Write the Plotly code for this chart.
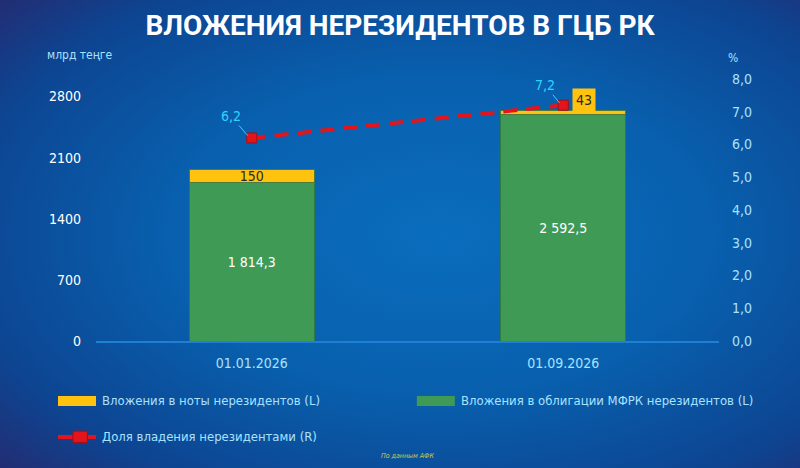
import base64
import plotly.graph_objects as go

# data
dates = ["01.01.2026", "01.09.2026"]
bonds_mfrk = [1814.3, 2592.5]   # облигации МФРК, млрд тенге (L)
notes = [150, 43]               # ноты, млрд тенге (L)
share = [6.2, 7.2]              # доля нерезидентов, % (R)
left_ticks = [0, 700, 1400, 2100, 2800]

GREEN = "#3f9a56"
YELLOW = "#ffc20e"
RED = "#e3141c"
CYAN = "#2fd2ff"
TICK = "#a9e2ff"
FONT = "DejaVu Sans Condensed, Liberation Sans Narrow, Roboto, sans-serif"

# plot area in pixels, used to place the background over the whole page
L, R, T, B = 96, 81, 79, 127
PW, PH = 800 - L - R, 468 - T - B

# background gradient as an inline svg
svg = """<svg xmlns='http://www.w3.org/2000/svg' width='800' height='468' preserveAspectRatio='none'>
<defs><radialGradient id='g' cx='0.55' cy='0.5' r='0.75'>
<stop offset='0' stop-color='#0a6dbd'/>
<stop offset='0.45' stop-color='#0860ae'/>
<stop offset='0.8' stop-color='#0d4592'/>
<stop offset='1' stop-color='#232c72'/>
</radialGradient></defs>
<rect width='800' height='468' fill='url(#g)'/></svg>"""
bg = "data:image/svg+xml;base64," + base64.b64encode(svg.encode()).decode()

fig = go.Figure()

fig.add_trace(go.Bar(
    x=dates, y=bonds_mfrk, name="Вложения в облигации МФРК нерезидентов (L)",
    marker=dict(color=GREEN, line=dict(color="#2f7a45", width=1)),
    width=0.4, texttemplate="%{y:,.1f}", textposition="inside",
    insidetextanchor="middle",
    textfont=dict(family=FONT, size=14, color="white"),
))
fig.add_trace(go.Bar(
    x=dates, y=notes, name="Вложения в ноты нерезидентов (L)",
    marker=dict(color=YELLOW, line=dict(color="#4f7a3a", width=1)),
    width=0.4, constraintext="none",
    text=[str(notes[0]), ""], textposition="inside", insidetextanchor="middle",
    textfont=dict(family=FONT, size=14, color="#2a2a2a"),
))
fig.add_trace(go.Scatter(
    x=dates, y=share, yaxis="y2", mode="lines+markers",
    name="Доля владения нерезидентами (R)",
    line=dict(color=RED, width=4, dash="14px,9px"),
    marker=dict(symbol="square", size=10, color=RED,
                line=dict(color="#a01018", width=1)),
))

annotations = []
# small share labels with leader lines
for d, v, ax, ay in zip(dates, share, [-19, -16], [-22, -20]):
    annotations.append(dict(
        x=d, y=v, yref="y2", text=f"{v:.1f}".replace(".", ","),
        showarrow=True, arrowhead=0, arrowwidth=1, arrowcolor=CYAN,
        ax=ax, ay=ay, xshift=-2, standoff=3,
        font=dict(family=FONT, size=14, color=CYAN),
    ))
# label of the tiny notes segment sits in a yellow box above the bar
annotations.append(dict(
    x=dates[1], y=bonds_mfrk[1] + notes[1], text=str(notes[1]),
    showarrow=False, yanchor="bottom", xshift=21, yshift=-1,
    bgcolor=YELLOW, borderpad=3,
    font=dict(family=FONT, size=14, color="#2a2a2a"),
))
annotations += [
    dict(xref="paper", yref="paper", x=-0.082, y=1.09, xanchor="left",
         yanchor="middle", text="млрд теңге", showarrow=False,
         font=dict(family=FONT, size=12, color=TICK)),
    dict(xref="paper", yref="paper", x=1.012, y=1.08, xanchor="left",
         yanchor="middle", text="%", showarrow=False,
         font=dict(family=FONT, size=12, color=TICK)),
    dict(xref="paper", yref="paper", x=0.5, y=-0.44, yanchor="middle",
         text="<i>По данным АФК</i>", showarrow=False,
         font=dict(family=FONT, size=7, color="#d6c25a")),
]

# hand-made legend (wide swatches like the original)
legend_rows = [
    (0.0, -0.229, YELLOW, "Вложения в ноты нерезидентов (L)"),
    (0.576, -0.229, GREEN, "Вложения в облигации МФРК нерезидентов (L)"),
]
shapes = []
for lx, ly, col, label in legend_rows:
    shapes.append(dict(type="rect", xref="paper", yref="paper",
                       x0=lx - 0.061, x1=lx, y0=ly - 0.019, y1=ly + 0.019,
                       fillcolor=col, line=dict(width=0)))
    annotations.append(dict(xref="paper", yref="paper", x=lx + 0.006, y=ly,
                            xanchor="left", yanchor="middle", text=label,
                            showarrow=False,
                            font=dict(family=FONT, size=13, color=TICK)))
ly = -0.366
shapes.append(dict(type="line", xref="paper", yref="paper", x0=-0.061, x1=0.0,
                   y0=ly, y1=ly, line=dict(color=RED, width=4)))
shapes.append(dict(type="rect", xref="paper", yref="paper", x0=-0.037, x1=-0.014,
                   y0=ly - 0.022, y1=ly + 0.022, fillcolor=RED,
                   line=dict(color="#a01018", width=1)))
annotations.append(dict(xref="paper", yref="paper", x=0.006, y=ly, xanchor="left",
                        yanchor="middle", text="Доля владения нерезидентами (R)",
                        showarrow=False,
                        font=dict(family=FONT, size=13, color=TICK)))

fig.update_layout(
    width=800, height=468,
    margin=dict(l=L, r=R, t=T, b=B),
    barmode="stack", showlegend=False,
    separators=", ",
    paper_bgcolor="#0860ae", plot_bgcolor="rgba(0,0,0,0)",
    images=[dict(source=bg, xref="paper", yref="paper", x=-L / PW, y=1 + T / PH,
                 sizex=800 / PW, sizey=468 / PH, sizing="stretch", layer="below",
                 xanchor="left", yanchor="top")],
    title=dict(text="<b>ВЛОЖЕНИЯ НЕРЕЗИДЕНТОВ В ГЦБ РК</b>", x=0.5, xanchor="center",
               y=0.947, yanchor="middle",
               font=dict(family="Roboto, sans-serif", size=28, color="white")),
    xaxis=dict(showgrid=False, showline=True, linecolor="#1f7fd6", linewidth=2,
               range=[-0.5, 1.5], ticks="", ticklabelstandoff=8,
               tickfont=dict(family=FONT, size=14, color=TICK)),
    yaxis=dict(range=[0, 3000], tickvals=left_ticks, showgrid=False,
               zeroline=False, showline=False, ticklabelstandoff=14,
               tickfont=dict(family=FONT, size=14, color="white")),
    yaxis2=dict(range=[0, 8], dtick=1, tickformat=".1f", overlaying="y",
                side="right", showgrid=False, zeroline=False, ticklabelstandoff=12,
                tickfont=dict(family=FONT, size=14, color=TICK)),
    shapes=shapes, annotations=annotations,
)

# the page body has a default margin; drop it so the chart fills the window
fig.write_html("out.html", config={"displayModeBar": False},
               post_script="document.body.style.margin='0';")
